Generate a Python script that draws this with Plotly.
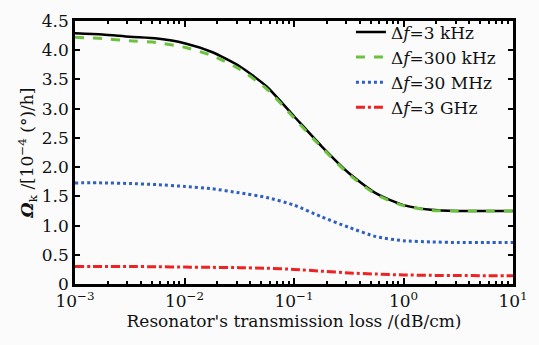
import numpy as np
import plotly.graph_objects as go

log_x = [-3, -2.75, -2.5, -2.25, -2.0, -1.75, -1.5, -1.25, -1.0, -0.75, -0.5, -0.25, 0.0, 0.25, 0.5, 0.75, 1.0]
x_vals = [10 ** v for v in log_x]

omega_3khz = [4.29, 4.27, 4.23, 4.20, 4.12, 3.97, 3.73, 3.38, 2.87, 2.36, 1.90, 1.55, 1.35, 1.27, 1.25, 1.25, 1.25]
omega_300khz = [4.22, 4.20, 4.16, 4.13, 4.05, 3.91, 3.68, 3.34, 2.84, 2.34, 1.88, 1.53, 1.34, 1.26, 1.25, 1.25, 1.25]
omega_30mhz = [1.73, 1.73, 1.72, 1.70, 1.67, 1.63, 1.56, 1.48, 1.35, 1.15, 0.97, 0.81, 0.74, 0.72, 0.71, 0.71, 0.71]
omega_3ghz = [0.30, 0.30, 0.30, 0.295, 0.29, 0.285, 0.28, 0.27, 0.25, 0.22, 0.19, 0.17, 0.155, 0.148, 0.145, 0.142, 0.14]

series_names = ["Δ<i>f</i>=3 kHz", "Δ<i>f</i>=300 kHz", "Δ<i>f</i>=30 MHz", "Δ<i>f</i>=3 GHz"]
x_tickvals = [1e-3, 1e-2, 1e-1, 1, 10]
x_ticktext = ["10<sup>−3</sup>", "10<sup>−2</sup>", "10<sup>−1</sup>", "10<sup>0</sup>", "10<sup>1</sup>"]
y_tickvals = [0, 0.5, 1.0, 1.5, 2.0, 2.5, 3.0, 3.5, 4.0, 4.5]
y_ticktext = ["0", "0.5", "1.0", "1.5", "2.0", "2.5", "3.0", "3.5", "4.0", "4.5"]

styles = [
    dict(color="#000000", width=2.5, dash="solid"),
    dict(color="#6cc23e", width=3, dash="dash"),
    dict(color="#2f5fc4", width=3, dash="dot"),
    dict(color="#ee2222", width=3, dash="dashdot"),
]

fig = go.Figure()
for name, ys, st in zip(series_names, [omega_3khz, omega_300khz, omega_30mhz, omega_3ghz], styles):
    fig.add_trace(go.Scatter(x=x_vals, y=ys, mode="lines", name=name,
                             line=dict(shape="spline", smoothing=0.6, **st)))

font_family = "DejaVu Serif"
fig.update_layout(
    width=539, height=345,
    margin=dict(l=75, r=17, t=11, b=61),
    paper_bgcolor="#fbfbfb", plot_bgcolor="#fbfbfb",
    font=dict(family=font_family, size=17, color="#111"),
    showlegend=True,
    legend=dict(x=0.63, y=1.025, xanchor="left", yanchor="top",
                bgcolor="rgba(255,255,255,0)", borderwidth=0,
                font=dict(family=font_family, size=17),
                tracegroupgap=0, itemwidth=30),
)
fig.update_xaxes(
    type="log", range=[-3, 1],
    tickvals=x_tickvals, ticktext=x_ticktext,
    ticks="inside", ticklen=6, tickwidth=1.5, tickcolor="#000",
    minor=dict(ticks="inside", ticklen=3, tickwidth=1.5, tickcolor="#000", dtick="D1"),
    showline=True, linewidth=2.5, linecolor="#000", mirror="allticks",
    showgrid=False, zeroline=False,
    title=dict(text="Resonator's transmission loss /(dB/cm)", font=dict(family=font_family, size=17), standoff=4),
    tickfont=dict(family=font_family, size=17),
)
fig.update_yaxes(
    range=[0, 4.5],
    tickvals=y_tickvals, ticktext=y_ticktext,
    ticks="inside", ticklen=5, tickwidth=1.5, tickcolor="#000",
    showline=True, linewidth=2.5, linecolor="#000", mirror="allticks",
    showgrid=False, zeroline=False,
    title=dict(text="<b><i>Ω</i></b><sub>k</sub> /[10<sup>−4</sup> (°)/h]", font=dict(family=font_family, size=17), standoff=4),
    tickfont=dict(family=font_family, size=17),
)

fig.write_html("out.html")
